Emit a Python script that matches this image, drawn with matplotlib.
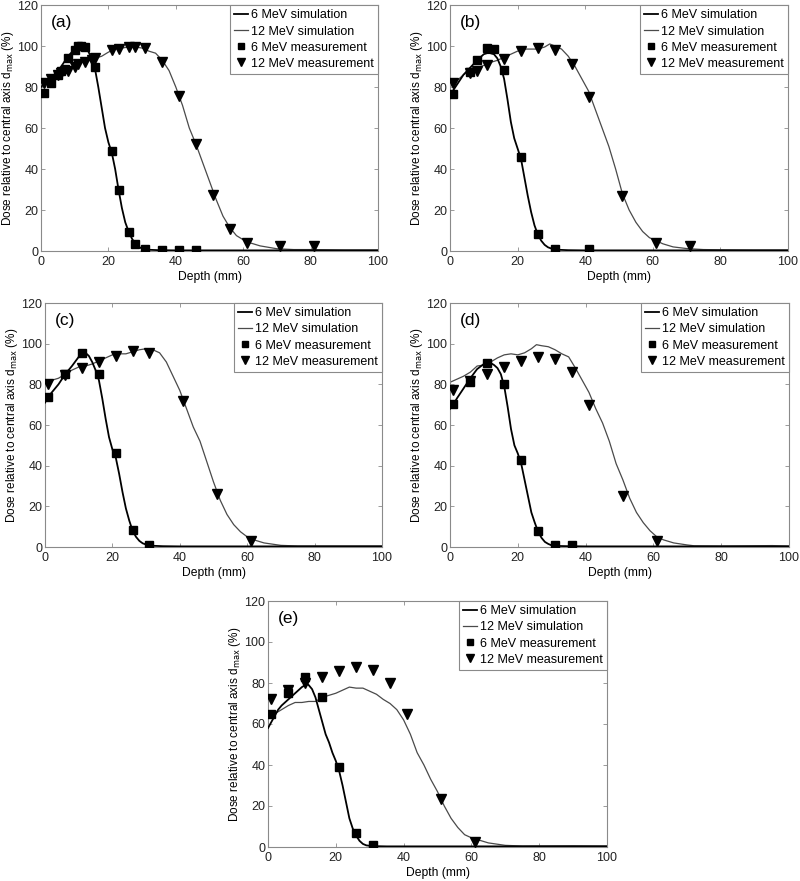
import matplotlib
matplotlib.use("Agg")
import matplotlib.pyplot as plt

plt.rcParams['font.family'] = ['Liberation Sans', 'DejaVu Sans']

# ---------------- Panel (a) ----------------
a_sim6_x = [0, 2, 4, 6, 8, 10, 11, 12, 13, 14, 15, 16, 17, 18, 19, 20, 21, 22, 23, 24, 25, 26, 27, 28, 29, 30, 32, 35, 40, 50, 60, 70, 80, 90, 100]
a_sim6_y = [80, 83, 86, 90, 95, 98.5, 99.5, 100, 99.5, 97.5, 94, 89, 80, 70, 60, 53, 48, 40, 30, 21, 14, 9.5, 6, 3.5, 2, 1.2, 0.6, 0.4, 0.3, 0.3, 0.3, 0.3, 0.3, 0.3, 0.3]
a_sim12_x = [0, 2, 4, 6, 8, 10, 12, 14, 16, 18, 20, 22, 24, 26, 28, 30, 32, 34, 36, 38, 40, 42, 44, 46, 48, 50, 52, 54, 56, 58, 60, 62, 65, 70, 75, 80, 90, 100]
a_sim12_y = [81, 83, 85, 87, 88.5, 90, 92, 93, 94, 95, 97, 98.5, 99, 99.5, 99.5, 99, 97.5, 96.5, 93, 88, 80, 71, 60, 52, 43, 34, 25, 17, 11.5, 7.5, 5.5, 4, 2.5, 1.1, 0.7, 0.7, 0.5, 0.5]
a_meas6_x = [1, 3, 5, 6, 7, 8, 10, 11, 12, 13, 16, 21, 23, 26, 28, 31, 36, 41, 46]
a_meas6_y = [77, 82, 86, 88, 89, 94, 98, 100, 100, 99.5, 90, 49, 30, 9.5, 3.3, 1, 0.7, 0.7, 0.7]
a_meas12_x = [1, 3, 5, 6, 8, 10, 11, 13, 15, 16, 21, 23, 26, 28, 31, 36, 41, 46, 51, 56, 61, 71, 81]
a_meas12_y = [82, 84, 86, 87, 88, 90, 91, 92, 93, 94, 98, 98.5, 99.5, 99.5, 99, 92, 75.5, 52, 27.5, 10.5, 4, 2.5, 2.5]

# ---------------- Panel (b) ----------------
b_sim6_x = [0, 2, 4, 6, 8, 10, 11, 12, 13, 14, 15, 16, 17, 18, 19, 20, 21, 22, 23, 24, 25, 26, 27, 28, 29, 30, 32, 35, 40, 50, 60, 70, 80, 90, 100]
b_sim6_y = [76, 81, 86, 89.5, 93, 96, 96.5, 96.5, 96, 94, 90, 84, 74, 63, 55, 50, 45, 36, 27, 19, 12.5, 8, 5, 3, 1.8, 1.2, 0.6, 0.4, 0.3, 0.3, 0.3, 0.3, 0.3, 0.3, 0.3]
b_sim12_x = [0, 2, 4, 6, 8, 10, 12, 14, 16, 18, 20, 22, 24, 26, 28, 29.5, 31, 33, 35, 37, 39, 41, 43, 45, 47, 49, 51, 53, 55, 57, 59, 61, 63, 66, 70, 75, 80, 90, 100]
b_sim12_y = [80, 83, 86, 88, 89.5, 90.5, 92, 93, 94.5, 96, 97.5, 98.5, 98.5, 98.5, 99.5, 101, 100, 98.5, 95, 90, 84, 78, 69, 60, 51, 40, 28, 20, 14, 9.5, 6.5, 5, 3.5, 2, 1.2, 0.7, 0.6, 0.5, 0.5]
b_meas6_x = [1, 6, 8, 11, 13, 16, 21, 26, 31, 41]
b_meas6_y = [76.5, 87.5, 93, 98.8, 98.5, 88.5, 46, 8.5, 1, 1]
b_meas12_x = [1, 6, 8, 11, 16, 21, 26, 31, 36, 41, 51, 61, 71]
b_meas12_y = [82, 87, 88, 90.5, 93.5, 97.5, 99, 98, 91, 75, 27, 4, 2.5]

# ---------------- Panel (c) ----------------
c_sim6_x = [0, 1, 2, 4, 6, 8, 10, 11, 12, 13, 14, 15, 16, 17, 18, 19, 20, 21, 22, 23, 24, 25, 26, 27, 28, 29, 30, 32, 35, 40, 50, 60, 70, 80, 90, 100]
c_sim6_y = [71, 74, 76, 80, 85, 89, 93.5, 95, 95.5, 94, 91, 87, 82, 73, 63, 54, 48, 44, 36, 27, 19, 13, 8, 5, 3, 1.8, 1.2, 0.6, 0.4, 0.3, 0.3, 0.3, 0.3, 0.3, 0.3, 0.3]
c_sim12_x = [0, 2, 4, 6, 8, 10, 12, 14, 16, 18, 20, 22, 24, 26, 28, 30, 32, 34, 36, 38, 40, 42, 44, 46, 48, 50, 52, 54, 56, 58, 60, 62, 65, 70, 75, 80, 90, 100]
c_sim12_y = [80, 82, 83, 85, 87, 88.5, 89, 90, 91.5, 93, 94.5, 95, 95, 96, 97, 97.5, 97, 95.5, 91, 84, 77, 68, 59, 52, 42, 32, 23, 16, 11, 7.5, 5, 3.5, 2, 0.8, 0.5, 0.5, 0.5, 0.5]
c_meas6_x = [1, 6, 11, 16, 21, 26, 31]
c_meas6_y = [74, 85, 95.5, 85, 46, 8.5, 1]
c_meas12_x = [1, 6, 11, 16, 21, 26, 31, 41, 51, 61]
c_meas12_y = [80, 84.5, 88, 91, 94, 96.5, 95.5, 72, 26, 3]

# ---------------- Panel (d) ----------------
d_sim6_x = [0, 1, 2, 4, 6, 8, 10, 11, 12, 13, 14, 15, 16, 17, 18, 19, 20, 21, 22, 23, 24, 25, 26, 27, 28, 29, 30, 32, 35, 40, 50, 60, 70, 80, 90, 100]
d_sim6_y = [68, 70, 73, 78, 83, 87.5, 90, 90.5, 90.5, 89.5, 88, 85, 79, 69, 58, 50, 46, 41, 33, 25, 17, 12, 7.5, 4.5, 2.5, 1.5, 0.8, 0.5, 0.4, 0.3, 0.3, 0.3, 0.3, 0.3, 0.3, 0.3]
d_sim12_x = [0, 2, 4, 6, 8, 10, 12, 14, 16, 18, 20, 22, 24, 25.5, 27, 29, 31, 33, 35, 37, 39, 41, 43, 45, 47, 49, 51, 53, 55, 57, 59, 61, 63, 66, 70, 72, 80, 95, 100]
d_sim12_y = [81, 82.5, 84, 86, 89, 89.5, 91, 93, 94.5, 95, 94.5, 95.5, 97.5, 99.5, 99, 98.5, 97, 95, 93.5, 88, 82, 76, 68, 61, 52, 41, 33, 24, 17, 12, 8, 5, 3.5, 2, 1, 0.6, 0.5, 0.7, 0.5]
d_meas6_x = [1, 6, 11, 16, 21, 26, 31, 36]
d_meas6_y = [70.5, 81, 90.5, 80, 43, 8, 1, 1]
d_meas12_x = [1, 6, 11, 16, 21, 26, 31, 36, 41, 51, 61]
d_meas12_y = [77, 81.5, 85, 88.5, 91.5, 93.5, 92.5, 86, 70, 25, 3]

# ---------------- Panel (e) ----------------
e_sim6_x = [0, 1, 2, 3, 4, 6, 8, 10, 11, 11.5, 12, 13, 14, 15, 16, 17, 18, 19, 20, 21, 22, 23, 24, 25, 26, 27, 28, 29, 30, 32, 35, 40, 50, 60, 70, 80, 90, 100]
e_sim6_y = [58, 61, 64, 67, 69, 72, 75, 78, 79, 79.5, 79, 77, 73, 67, 61, 55, 51, 46, 42, 37, 30, 22, 14, 9, 5.5, 3, 1.5, 0.8, 0.6, 0.4, 0.3, 0.3, 0.3, 0.3, 0.3, 0.3, 0.3, 0.3]
e_sim12_x = [0, 2, 4, 6, 8, 10, 12, 14, 16, 18, 20, 22, 24, 26, 28, 30, 32, 34, 36, 38, 40, 42, 44, 46, 48, 50, 52, 54, 56, 58, 60, 62, 65, 70, 75, 90, 100]
e_sim12_y = [63, 65, 67, 69, 70.5, 70.5, 71, 71, 73, 74, 75, 76.5, 78, 77.5, 77.5, 76, 74.5, 72, 70, 67, 62, 55, 46, 40, 33, 27, 20, 14, 9.5, 6, 4.5, 3.5, 2, 0.8, 0.5, 0.6, 0.5]
e_meas6_x = [1, 6, 11, 16, 21, 26, 31]
e_meas6_y = [65, 75, 83, 73, 39, 7, 1]
e_meas12_x = [1, 6, 11, 16, 21, 26, 31, 36, 41, 51, 61]
e_meas12_y = [72, 76.5, 80, 83, 86, 88, 86.5, 80, 65, 23.5, 2.5]

panel_labels = ['(a)', '(b)', '(c)', '(d)', '(e)']
legend_labels = ['6 MeV simulation', '12 MeV simulation', '6 MeV measurement', '12 MeV measurement']
x_ticks = [0, 20, 40, 60, 80, 100]
y_ticks = [0, 20, 40, 60, 80, 100, 120]

panels = [
    (a_sim6_x, a_sim6_y, a_sim12_x, a_sim12_y, a_meas6_x, a_meas6_y, a_meas12_x, a_meas12_y),
    (b_sim6_x, b_sim6_y, b_sim12_x, b_sim12_y, b_meas6_x, b_meas6_y, b_meas12_x, b_meas12_y),
    (c_sim6_x, c_sim6_y, c_sim12_x, c_sim12_y, c_meas6_x, c_meas6_y, c_meas12_x, c_meas12_y),
    (d_sim6_x, d_sim6_y, d_sim12_x, d_sim12_y, d_meas6_x, d_meas6_y, d_meas12_x, d_meas12_y),
    (e_sim6_x, e_sim6_y, e_sim12_x, e_sim12_y, e_meas6_x, e_meas6_y, e_meas12_x, e_meas12_y),
]

W, H = 800, 881
boxes_px = [
    (41, 5, 378, 251),
    (450, 5, 788, 251),
    (45, 303, 382, 547),
    (450, 303, 789, 547),
    (268, 601, 607, 847),
]

fig = plt.figure(figsize=(8, 8.81), dpi=100)
spine_col = '#8a8a8a'

for i, (data, box) in enumerate(zip(panels, boxes_px)):
    s6x, s6y, s12x, s12y, m6x, m6y, m12x, m12y = data
    l, t, r, b = box
    ax = fig.add_axes([l / W, 1 - b / H, (r - l) / W, (b - t) / H])
    ax.plot(s6x, s6y, color='black', lw=1.3, label=legend_labels[0], zorder=3)
    ax.plot(s12x, s12y, color='#4a4a4a', lw=0.9, label=legend_labels[1], zorder=2)
    ax.plot(m6x, m6y, ls='none', marker='s', ms=5.2, color='black', label=legend_labels[2], zorder=4)
    ax.plot(m12x, m12y, ls='none', marker='v', ms=6.8, color='black', label=legend_labels[3], zorder=4)
    ax.set_xlim(0, 100)
    ax.set_ylim(0, 120)
    ax.set_xticks(x_ticks)
    ax.set_yticks(y_ticks)
    ax.tick_params(direction='in', length=3, width=0.6, top=True, right=True,
                   labelsize=9, colors='#222222', color=spine_col)
    ax.tick_params(axis='x', pad=3.5)
    ax.tick_params(axis='y', pad=2)
    for sp in ax.spines.values():
        sp.set_color(spine_col)
        sp.set_linewidth(0.8)
    ax.set_xlabel('Depth (mm)', fontsize=8.7, labelpad=2.5)
    ax.set_ylabel('Dose relative to central axis d$_{\\mathrm{max}}$ (%)', fontsize=8.5, labelpad=1)
    ax.text(0.03, 0.96, panel_labels[i], transform=ax.transAxes, fontsize=12.5,
            ha='left', va='top')
    leg = ax.legend(loc='upper right', fontsize=9, borderaxespad=0, handlelength=1.1,
                    handletextpad=0.25, labelspacing=0.33, markerscale=0.75,
                    fancybox=False, framealpha=1, borderpad=0.35)
    leg.get_frame().set_edgecolor(spine_col)
    leg.get_frame().set_linewidth(0.8)

fig.savefig('out.png', dpi=100)
